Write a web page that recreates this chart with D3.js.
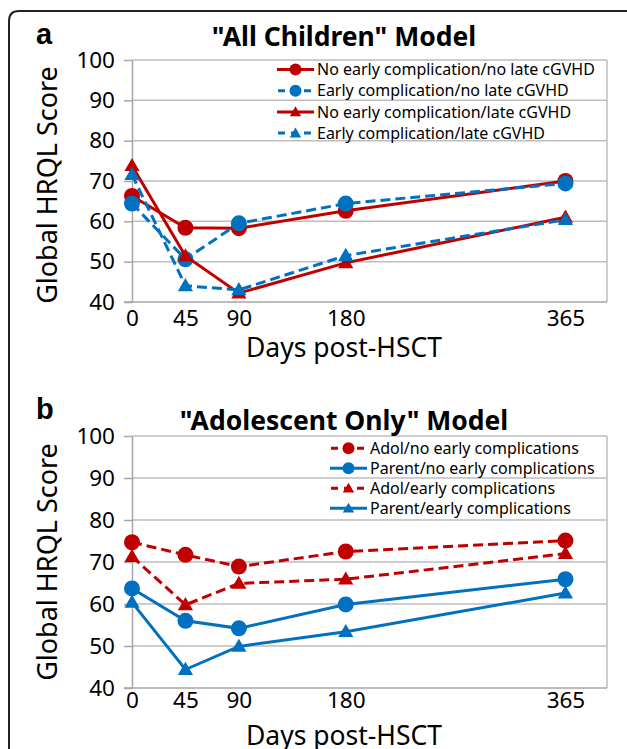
<!DOCTYPE html>
<html>
<head>
  <meta charset="utf-8">
  <title>Global HRQL Score post-HSCT</title>
  <script src="https://d3js.org/d3.v7.min.js"></script>
  <style>
    body { margin: 0; background: #fff; }
    text { font-family: "Noto Sans", "Open Sans", sans-serif; fill: #000; }
  </style>
</head>
<body>
  <svg id="chart" width="627" height="749"></svg>

  <script>
    // days after transplant (x values) and y ticks
    const days = [0, 45, 90, 180, 365];
    const yTicks = [40, 50, 60, 70, 80, 90, 100];

    // panel a: "All Children" model
    const allNames = [
      "No early complication/no late cGVHD",
      "Early complication/no late cGVHD",
      "No early complication/late cGVHD",
      "Early complication/late cGVHD"
    ];
    const noEarlyNoLate = [66.3, 58.4, 58.3, 62.6, 70.0];
    const earlyNoLate   = [64.4, 50.6, 59.5, 64.4, 69.4];
    const noEarlyLate   = [73.8, 51.4, 42.2, 49.7, 61.0];
    const earlyLate     = [71.6, 44.0, 43.0, 51.5, 60.4];

    // panel b: "Adolescent Only" model
    const adolNames = [
      "Adol/no early complications",
      "Parent/no early complications",
      "Adol/early complications",
      "Parent/early complications"
    ];
    const adolNoEarly   = [74.7, 71.7, 68.9, 72.5, 75.1];
    const parentNoEarly = [63.7, 56.0, 54.2, 59.9, 65.9];
    const adolEarly     = [71.3, 59.8, 64.9, 65.9, 72.0];
    const parentEarly   = [60.4, 44.4, 49.9, 53.4, 62.6];

    const red = "#c00000", blue = "#0070c0";

    const svg = d3.select("#chart");

    // outer frame (only left + top edges are inside the picture)
    svg.append("path")
      .attr("d", "M9,760 L9,21 Q9,11 19,11 L640,11")
      .attr("fill", "none")
      .attr("stroke", "#222")
      .attr("stroke-width", 2);

    const panels = [
      {
        letter: "a", letterY: 44, title: "\"All Children\" Model", titleY: 46,
        top: 60, bottom: 302, tickPad: 8, xLabelY: 357, yLabelY: 185,
        legendX: 317, legendY: 69.5, legendStep: 21.2,
        series: [
          {name: allNames[0], values: noEarlyNoLate, color: red,  dash: null,   marker: "circle"},
          {name: allNames[1], values: earlyNoLate,   color: blue, dash: "10,5", marker: "circle"},
          {name: allNames[2], values: noEarlyLate,   color: red,  dash: null,   marker: "triangle"},
          {name: allNames[3], values: earlyLate,     color: blue, dash: "10,5", marker: "triangle"}
        ]
      },
      {
        letter: "b", letterY: 419, title: "\"Adolescent Only\" Model", titleY: 430,
        top: 436, bottom: 688, tickPad: 4, xLabelY: 745, yLabelY: 562,
        legendX: 370, legendY: 448.3, legendStep: 20,
        series: [
          {name: adolNames[0], values: adolNoEarly,   color: red,  dash: "10,5", marker: "circle"},
          {name: adolNames[1], values: parentNoEarly, color: blue, dash: null,   marker: "circle"},
          {name: adolNames[2], values: adolEarly,     color: red,  dash: "10,5", marker: "triangle"},
          {name: adolNames[3], values: parentEarly,   color: blue, dash: null,   marker: "triangle"}
        ]
      }
    ];

    const left = 132, right = 607;
    const x = d3.scaleLinear().domain([0, 400]).range([left, right]);

    function drawMarker(g, type, cx, cy, size, color) {
      if (type === "circle") {
        g.append("circle").attr("cx", cx).attr("cy", cy).attr("r", size)
          .attr("fill", color);
      } else {
        const s = size * 1.9;
        g.append("path")
          .attr("d", d3.symbol(d3.symbolTriangle, s * s * 0.433))
          .attr("transform", `translate(${cx},${cy + 1})`)
          .attr("fill", color);
      }
    }

    panels.forEach(function(p) {
      const y = d3.scaleLinear().domain([40, 100]).range([p.bottom, p.top]);
      const g = svg.append("g");

      // gridlines
      g.selectAll(".grid")
        .data(yTicks.slice(1))
        .enter().append("line")
        .attr("x1", left).attr("x2", right)
        .attr("y1", d => y(d)).attr("y2", d => y(d))
        .attr("stroke", "#bdbdbd").attr("stroke-width", 1.5);

      // right border of plot
      g.append("line")
        .attr("x1", right).attr("x2", right)
        .attr("y1", p.top).attr("y2", p.bottom)
        .attr("stroke", "#bdbdbd").attr("stroke-width", 1.5);

      // y axis
      const yAxis = g.append("g")
        .attr("transform", `translate(${left},0)`)
        .call(d3.axisLeft(y).tickValues(yTicks).tickSize(8).tickPadding(9).tickSizeOuter(0));
      yAxis.select(".domain").attr("stroke", "#a6a6a6").attr("stroke-width", 1.5);
      yAxis.selectAll(".tick line").attr("stroke", "#a6a6a6").attr("stroke-width", 1.5);
      yAxis.selectAll(".tick text")
        .style("font-family", "'Noto Sans', sans-serif")
        .style("font-size", "22.5px").attr("fill", "#000");

      // x axis
      const xAxis = g.append("g")
        .attr("transform", `translate(0,${p.bottom})`)
        .call(d3.axisBottom(x).tickValues(days).tickFormat(d3.format("d"))
          .tickSize(0).tickPadding(p.tickPad).tickSizeOuter(0));
      xAxis.select(".domain").attr("stroke", "#a6a6a6").attr("stroke-width", 1.5)
        .attr("d", `M${left - 8},0H${right}`);
      xAxis.selectAll(".tick text")
        .style("font-family", "'Noto Sans', sans-serif")
        .style("font-size", "22.5px").attr("fill", "#000");

      // series
      const line = d3.line().x((d, i) => x(days[i])).y(d => y(d));
      p.series.forEach(function(s) {
        g.append("path")
          .attr("d", line(s.values))
          .attr("fill", "none")
          .attr("stroke", s.color)
          .attr("stroke-width", 3)
          .attr("stroke-dasharray", s.dash);
        s.values.forEach(function(v, i) {
          drawMarker(g, s.marker, x(days[i]), y(v), 8, s.color);
        });
      });

      // legend
      p.series.forEach(function(s, i) {
        const ly = p.legendY + i * p.legendStep;
        g.append("line")
          .attr("x1", p.legendX - 40).attr("x2", p.legendX - 3)
          .attr("y1", ly).attr("y2", ly)
          .attr("stroke", s.color).attr("stroke-width", 3)
          .attr("stroke-dasharray", s.dash ? "7,6" : null)
          .attr("stroke-dashoffset", s.dash ? -1 : null);
        drawMarker(g, s.marker, p.legendX - 21.5, ly, 6, s.color);
        g.append("text")
          .attr("x", p.legendX).attr("y", ly)
          .attr("dy", "0.36em")
          .style("font-size", "16px")
          .text(s.name);
      });

      // titles and labels
      g.append("text")
        .attr("x", 36).attr("y", p.letterY)
        .style("font-family", "'Liberation Sans', Arial, sans-serif")
        .style("font-weight", "bold").style("font-size", "29px")
        .text(p.letter);

      g.append("text")
        .attr("x", 344).attr("y", p.titleY)
        .attr("text-anchor", "middle")
        .style("font-weight", "bold").style("font-size", "26.5px")
        .text(p.title);

      g.append("text")
        .attr("x", 344).attr("y", p.xLabelY)
        .attr("text-anchor", "middle")
        .style("font-size", "26.5px")
        .text("Days post-HSCT");

      g.append("text")
        .attr("transform", `translate(57,${p.yLabelY}) rotate(-90)`)
        .attr("text-anchor", "middle")
        .style("font-size", "27px")
        .text("Global HRQL Score");
    });
  </script>
</body>
</html>
